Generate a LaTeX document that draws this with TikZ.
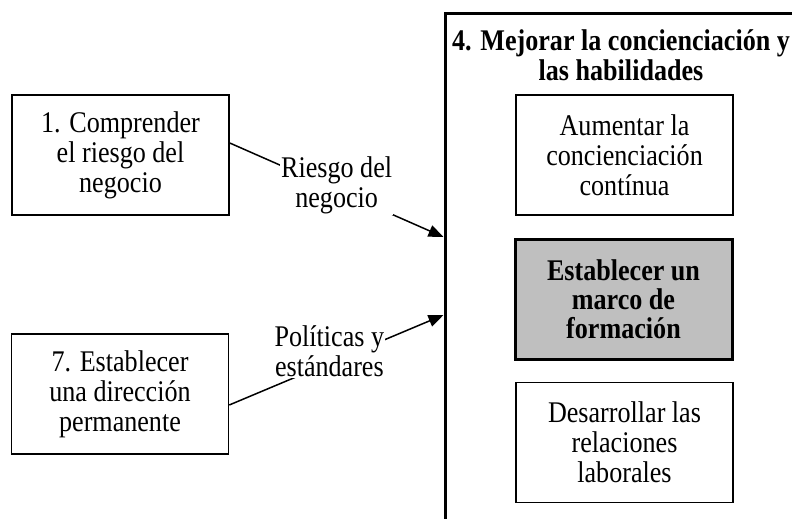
\documentclass[tikz,border=0pt]{standalone}
\usepackage{fontspec}
\setmainfont{Liberation Serif}[FakeStretch=0.87]
\usepackage{tikz}
\usetikzlibrary{arrows.meta}

\begin{document}
\begin{tikzpicture}[x=1pt, y=-1pt,
	every node/.style={font=\fontsize{30}{30}\selectfont, align=center},
	caja/.style={shape=rectangle, draw=black, line width=1.5pt, minimum width=217pt, minimum height=120pt, inner sep=0pt},
	clave/.style={caja, fill=black!25, line width=3pt, font=\fontsize{30}{29}\selectfont\bfseries},
	etiqueta/.style={fill=white, inner sep=1pt},
	flecha/.style={line width=1.5pt, -{Triangle[length=15pt, width=12pt]}}]
	\useasboundingbox (0,0) rectangle (792,519);
	\node[draw=black, line width=3pt, minimum width=362pt, minimum height=520pt, anchor=north west, inner sep=0pt] (marco4) at (443.5,12.5) {};
	\node[font=\fontsize{30}{30}\selectfont\bfseries] (titulo) at (621,55) {4. Mejorar la concienciación y\\las habilidades};
	\node[caja] (comprender)  at (120.5,155) {1. Comprender\\el riesgo del\\negocio};
	\node[caja] (direccion)   at (120,394)   {7. Establecer\\una dirección\\permanente};
	\node[caja] (aumentar)    at (624.5,155) {Aumentar la\\concienciación\\contínua};
	\node[clave] (formacion)  at (623.5,299) {Establecer un\\marco de\\formación};
	\node[caja] (desarrollar) at (624.5,442.5) {Desarrollar las\\relaciones\\laborales};
	\coordinate (sal1) at (comprender.east |- 0,143);
	\coordinate (ent1) at (marco4.west |- 0,237);
	\coordinate (sal7) at (direccion.east |- 0,405);
	\coordinate (ent7) at (marco4.west |- 0,315);
	\path[flecha] (sal1) edge node[etiqueta, yshift=5pt]{Riesgo del\\negocio} (ent1);
	\path[flecha] (sal7) edge node[etiqueta, xshift=-7pt, yshift=9pt]{Políticas y\\estándares} (ent7);
\end{tikzpicture}
\end{document}
